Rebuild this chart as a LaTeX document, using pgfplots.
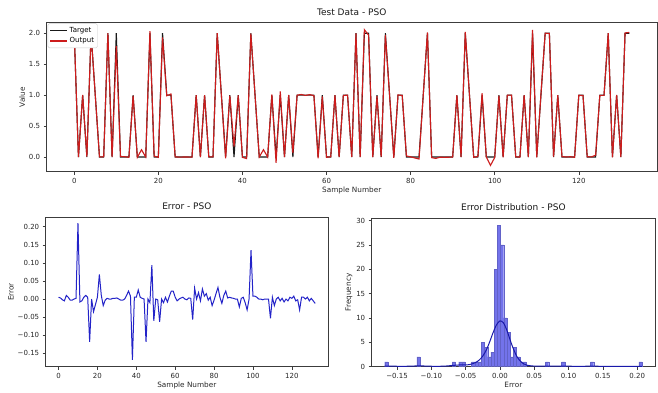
\documentclass[border=0pt]{standalone}
\usepackage{pgfplots}
\pgfplotsset{compat=1.18}
\usepackage{pgfplotstable}
\usepackage{fontspec}
\setmainfont{DejaVu Sans}
\definecolor{tgt}{RGB}{25,25,25}
\definecolor{outc}{RGB}{205,28,28}
\definecolor{errc}{RGB}{35,35,200}
\definecolor{histc}{RGB}{115,115,235}
\definecolor{kdec}{RGB}{25,25,170}
\definecolor{framec}{RGB}{60,60,60}

\pgfplotstableread{
i T O E
0 2 1.995 0.005
1 0 -0.003 0.003
2 1 1.002 -0.002
3 0 0.005 -0.005
4 2 1.99 0.01
5 1 0.995 0.005
6 0 0.003 -0.003
7 0 0.003 -0.003
8 2 2.0 0.0
9 0 -0.002 0.002
10 2 1.79 0.21
11 0 0.008 -0.008
12 0 0.005 -0.005
13 0 -0.005 0.005
14 1 0.99 0.01
15 0 -0.005 0.005
16 0 0.118 -0.118
17 0 0.0 0.0
18 2 2.035 -0.035
19 0 0.015 -0.015
20 0 -0.005 0.005
21 2 1.932 0.068
22 1 0.99 0.01
23 1 1.018 -0.018
24 0 0.003 -0.003
25 0 -0.002 0.002
26 0 0.0 0.0
27 0 0.0 0.0
28 0 -0.002 0.002
29 1 0.998 0.002
30 0 -0.003 0.003
31 1 1.0 0.0
32 0 0.003 -0.003
33 0 0.003 -0.003
34 2 2.0 0.0
35 1 0.99 0.01
36 0 -0.022 0.022
37 1 0.992 0.008
38 0 0.168 -0.168
39 1 0.995 0.005
40 0 -0.005 0.005
41 0 -0.025 0.025
42 2 1.995 0.005
43 1 0.998 0.002
44 0 0.0 0.0
45 0 0.118 -0.118
46 0 0.0 0.0
47 1 1.01 -0.01
48 0 -0.094 0.094
49 1 1.06 -0.06
50 0 0.0 0.0
51 1 1.002 -0.002
52 0 0.063 -0.063
53 1 1.0 0.0
54 1 1.01 -0.01
55 1 0.995 0.005
56 1 1.008 -0.008
57 1 0.992 0.008
58 0 -0.022 0.022
59 1 0.978 0.022
60 0 -0.005 0.005
61 0 0.005 -0.005
62 1 1.0 0.0
63 0 -0.003 0.003
64 1 0.995 0.005
65 1 1.0 0.0
66 0 0.002 -0.002
67 2 1.997 0.003
68 0 -0.002 0.002
69 2 2.057 -0.057
70 2 1.97 0.03
71 0 0.0 0.0
72 1 0.982 0.018
73 0 0.005 -0.005
74 2 1.972 0.028
75 1 0.992 0.008
76 0 -0.015 0.015
77 1 1.003 -0.003
78 1 0.995 0.005
79 0 0.018 -0.018
80 0 0.003 -0.003
81 0 -0.015 0.015
82 0 -0.032 0.032
83 1 0.995 0.005
84 2 2.012 -0.012
85 0 -0.01 0.01
86 0 -0.022 0.022
87 0 -0.003 0.003
88 0 -0.005 0.005
89 0 -0.003 0.003
90 0 -0.002 0.002
91 1 1.0 0.0
92 0 0.0 0.0
93 2 2.022 -0.022
94 1 0.998 0.002
95 0 -0.005 0.005
96 0 0.01 -0.01
97 1 1.03 -0.03
98 0 0.0 0.0
99 0 -0.135 0.135
100 0 -0.008 0.008
101 1 0.992 0.008
102 0 -0.005 0.005
103 1 1.0 0.0
104 1 1.0 0.0
105 0 0.002 -0.002
106 0 0.0 0.0
107 1 1.0 0.0
108 0 0.0 0.0
109 2 2.053 -0.053
110 0 -0.005 0.005
111 1 1.018 -0.018
112 2 2.0 0.0
113 2 1.995 0.005
114 0 0.005 -0.005
115 1 0.998 0.002
116 0 0.008 -0.008
117 0 0.0 0.0
118 0 0.005 -0.005
119 0 -0.005 0.005
120 1 0.998 0.002
121 1 0.992 0.008
122 0 0.005 -0.005
123 0 0.002 -0.002
124 0 0.03 -0.03
125 1 0.995 0.005
126 1 0.995 0.005
127 2 2.0 0.0
128 0 -0.005 0.005
129 1 1.005 -0.005
130 0 -0.002 0.002
131 2 2.005 -0.005
132 2 2.012 -0.012
}\datatable

\pgfplotstableread{
x c
-0.16566 1
-0.11878 2
-0.06722 1
-0.05784 1
-0.05316 1
-0.03909 1
-0.03441 1
-0.02972 1
-0.02503 5
-0.02034 4
-0.01566 2
-0.01097 3
-0.00628 20
-0.00159 29
0.00309 25
0.00778 10
0.01247 7
0.01716 2
0.02184 4
0.02653 2
0.03122 1
0.03591 1
0.06872 1
0.09216 1
0.13434 1
0.20466 1
}\histtable

\pgfplotstableread{
x y
-0.168 0.12
-0.155 0.10
-0.14 0.08
-0.125 0.14
-0.118 0.18
-0.11 0.14
-0.095 0.08
-0.08 0.12
-0.07 0.25
-0.06 0.35
-0.05 0.35
-0.045 0.42
-0.04 0.6
-0.035 0.9
-0.03 1.4
-0.025 2.2
-0.02 3.4
-0.015 5.1
-0.01 7.0
-0.005 8.6
0 9.4
0.005 9.0
0.01 7.5
0.015 5.4
0.02 3.5
0.025 2.0
0.03 1.1
0.035 0.55
0.04 0.28
0.05 0.12
0.06 0.1
0.07 0.12
0.08 0.1
0.095 0.12
0.11 0.08
0.135 0.1
0.16 0.07
0.18 0.06
0.207 0.08
}\kdetable

\pgfplotsset{
  mystyle/.style={
    scale only axis,
    anchor=south west,
    axis line style={framec, line width=0.6pt},
    tick align=outside,
    xtick pos=bottom, ytick pos=left,
    major tick length=3pt,
    tick style={framec, line width=0.5pt},
    ticklabel style={font=\fontsize{7}{8}\selectfont, text=black!85},
    label style={font=\fontsize{7.3}{8}\selectfont, text=black!85},
    title style={font=\fontsize{9}{10}\selectfont, text=black!90, yshift=-2pt},
    /pgf/number format/assume math mode=true,
    xlabel style={yshift=3pt},
    ylabel style={yshift=-3pt},
  }
}

\begin{document}
\begin{tikzpicture}[x=1pt,y=1pt]
\useasboundingbox (0,0) rectangle (658,393);

\begin{axis}[mystyle, at={(46.5pt,221.3pt)},
  width=610.5pt, height=149pt,
  xmin=-6.6, xmax=138.6, ymin=-0.237, ymax=2.17,
  xtick={0,20,40,60,80,100,120},
  ytick={0,0.5,1,1.5,2},
  yticklabel style={/pgf/number format/.cd, fixed, fixed zerofill, precision=1},
  title={Test Data - PSO},
  xlabel={Sample Number}, ylabel={Value},
  legend style={at={(0.002,0.995)}, anchor=north west, draw=black!20,
    rounded corners=1.5pt, font=\fontsize{7}{8}\selectfont, inner sep=1.5pt,
    row sep=0pt},
  legend cell align=left,
  legend image post style={line width=1.2pt},
]
\addplot[tgt, line width=1.1pt] table[x=i, y=T] {\datatable};
\addlegendentry{Target}
\addplot[outc, line width=1.1pt] table[x=i, y=O] {\datatable};
\addlegendentry{Output}
\end{axis}

\begin{axis}[mystyle, at={(45.7pt,26.3pt)},
  width=282.3pt, height=149.4pt,
  xmin=-6.6, xmax=138.6, ymin=-0.187, ymax=0.226,
  xtick={0,20,40,60,80,100,120},
  ytick={-0.15,-0.1,-0.05,0,0.05,0.1,0.15,0.2},
  yticklabels={−0.15,−0.10,−0.05,0.00,0.05,0.10,0.15,0.20},
  title={Error - PSO},
  xlabel={Sample Number}, ylabel={Error},
]
\addplot[errc, line width=1pt] table[x=i, y=E] {\datatable};
\end{axis}

\begin{axis}[mystyle, at={(371.7pt,26.3pt)},
  width=283.3pt, height=148.4pt,
  xmin=-0.187, xmax=0.226, ymin=0, ymax=30.45,
  xtick={-0.15,-0.1,-0.05,0,0.05,0.1,0.15,0.2},
  xticklabels={−0.15,−0.10,−0.05,0.00,0.05,0.10,0.15,0.20},
  ytick={0,5,10,15,20,25,30},
  title={Error Distribution - PSO},
  xlabel={Error}, ylabel={Frequency},
]
\addplot[ybar, bar width=0.0046875, fill=histc, draw=histc!85!black, line width=0.2pt] table[x=x, y=c] {\histtable};
\addplot[kdec, line width=1pt, smooth] table[x=x, y=y] {\kdetable};
\end{axis}
\end{tikzpicture}
\end{document}
